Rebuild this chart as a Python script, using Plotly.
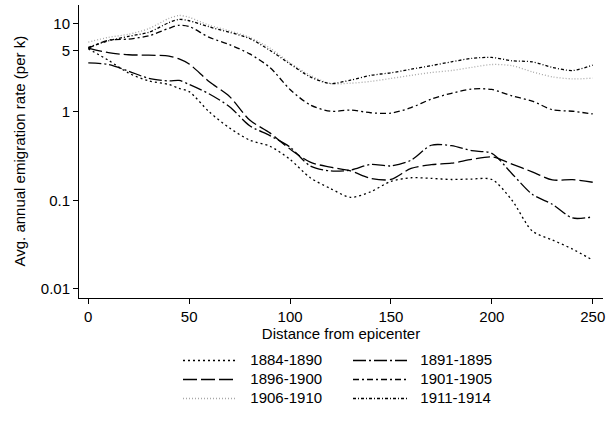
import plotly.graph_objects as go

distance = [0, 10, 20, 30, 40, 45, 50, 60, 70, 80, 90, 100, 110, 120, 130,
            140, 150, 160, 170, 180, 190, 200, 210, 220, 230, 240, 250]

r1884_1890 = [5.2, 3.85, 2.76, 2.25, 2.05, 1.85, 1.7, 1.0, 0.66, 0.48, 0.41, 0.29, 0.18, 0.136, 0.108,
              0.125, 0.164, 0.18, 0.177, 0.172, 0.174, 0.172, 0.1, 0.045, 0.0355, 0.028, 0.021]
r1891_1895 = [3.6, 3.45, 2.9, 2.4, 2.25, 2.28, 2.05, 1.6, 1.15, 0.7, 0.54, 0.4, 0.245, 0.215, 0.22,
              0.255, 0.245, 0.285, 0.42, 0.415, 0.365, 0.34, 0.2, 0.117, 0.09, 0.063, 0.065]
r1896_1900 = [5.3, 4.7, 4.45, 4.4, 4.3, 4.0, 3.5, 2.2, 1.5, 0.81, 0.58, 0.38, 0.27, 0.237, 0.215,
              0.177, 0.172, 0.23, 0.253, 0.263, 0.29, 0.31, 0.257, 0.21, 0.17, 0.171, 0.16]
r1901_1905 = [5.3, 6.5, 6.7, 7.3, 8.9, 9.6, 9.3, 7.0, 5.8, 4.55, 3.2, 1.8, 1.2, 1.02, 1.05,
              0.98, 0.97, 1.12, 1.4, 1.63, 1.82, 1.8, 1.52, 1.33, 1.06, 1.02, 0.95]
r1906_1910 = [6.2, 7.0, 7.6, 8.8, 11.5, 12.4, 11.8, 9.6, 8.3, 7.0, 5.3, 3.6, 2.6, 2.1, 2.12,
              2.22, 2.4, 2.6, 2.8, 2.95, 3.2, 3.45, 3.35, 2.85, 2.5, 2.37, 2.42]
r1911_1914 = [5.4, 6.4, 7.2, 8.0, 10.3, 11.2, 10.8, 9.2, 8.0, 6.8, 5.0, 3.5, 2.5, 2.1, 2.3,
              2.6, 2.78, 3.05, 3.35, 3.7, 4.05, 4.15, 3.8, 3.7, 3.2, 2.95, 3.4]

series = [
    ("1884-1890", r1884_1890, "black", "2px,3px", "legend"),
    ("1891-1895", r1891_1895, "black", "13px,3px,2px,3px", "legend2"),
    ("1896-1900", r1896_1900, "black", "14px,4px", "legend"),
    ("1901-1905", r1901_1905, "black", "6px,3px,2px,3px", "legend2"),
    ("1906-1910", r1906_1910, "#a8a8a8", "1px,2px", "legend"),
    ("1911-1914", r1911_1914, "black", "3px,2px,1px,2px", "legend2"),
]

FONT = "Liberation Sans, Arial, Helvetica, sans-serif"
Y_TITLE = "Avg. annual emigration rate (per k)"
X_TITLE = "Distance from epicenter"

fig = go.Figure()
for name, vals, col, dash, lg in series:
    fig.add_trace(go.Scatter(
        x=distance, y=vals, mode="lines",
        name='<span style="font-size:15px">&nbsp;&nbsp;' + name + '</span>',
        line=dict(color=col, width=1.3, dash=dash, shape="spline", smoothing=0.8),
        legend=lg,
    ))

legend_common = dict(
    orientation="v", xref="container", yref="container",
    xanchor="left", yanchor="top", font=dict(family=FONT, size=12, color="black"),
    bgcolor="rgba(0,0,0,0)", itemwidth=54, tracegroupgap=0,
    itemclick=False, itemdoubleclick=False,
)

fig.update_layout(
    width=608, height=423,
    margin=dict(l=79, r=5, t=5, b=125, autoexpand=False),
    paper_bgcolor="white", plot_bgcolor="white",
    font=dict(family=FONT, size=15, color="black"),
    showlegend=True,
    legend=dict(**legend_common, x=178 / 608, y=1 - 346 / 423),
    legend2=dict(**legend_common, x=348 / 608, y=1 - 346 / 423),
    xaxis=dict(
        range=[-4.6, 255.1], tickvals=[0, 50, 100, 150, 200, 250],
        showline=True, linecolor="black", linewidth=1, mirror=False,
        ticks="outside", ticklen=5, tickcolor="black", tickwidth=1,
        showgrid=False, zeroline=False,
        title=dict(text=X_TITLE, font=dict(size=15), standoff=4),
        tickfont=dict(size=15),
    ),
    yaxis=dict(
        type="log", range=[-2.107, 1.212],
        tickvals=[0.01, 0.1, 1, 5, 10], ticktext=["0.01", "0.1", "1", "5", "10"],
        showline=True, linecolor="black", linewidth=1, mirror=False,
        ticks="outside", ticklen=5, tickcolor="black", tickwidth=1,
        showgrid=False, zeroline=False,
        tickfont=dict(size=15),
    ),
    annotations=[dict(
        text=Y_TITLE, textangle=-90, xref="paper", yref="paper",
        x=(19 - 79) / 524, y=0.5, xanchor="center", yanchor="middle",
        showarrow=False, font=dict(family=FONT, size=15, color="black"),
    )],
)

fig.write_html("out.html")
